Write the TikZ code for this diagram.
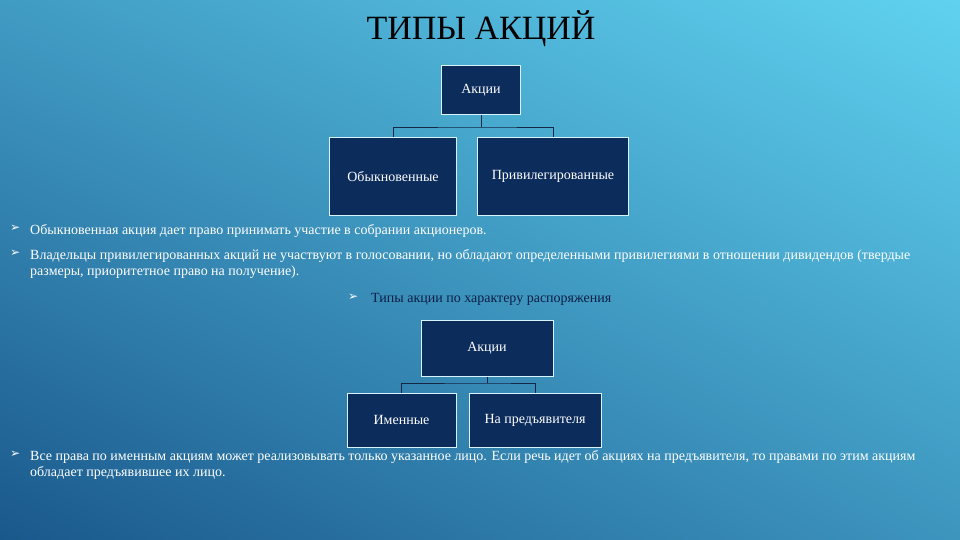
\documentclass[tikz,border=0pt]{standalone}
\usepackage{fontspec}
\setmainfont{Liberation Serif}
\newfontfamily\dv{DejaVu Sans}
\usetikzlibrary{shadings}
\begin{document}
\begin{tikzpicture}[x=1pt,y=-1pt,
  box/.style={draw=white!85!cyan,line width=1pt,fill={rgb,255:red,12;green,44;blue,92},text=white,font=\fontsize{14}{16}\selectfont,inner sep=0pt},
  conn/.style={draw={rgb,255:red,20;green,40;blue,70},line width=0.8pt},
  txt/.style={anchor=north west,text=white,font=\fontsize{14}{16.5}\selectfont,inner sep=0pt,align=left},
  bul/.style={anchor=north west,text=white,font=\dv\fontsize{12}{12}\selectfont,inner sep=0pt}]
\definecolor{bgA}{RGB}{26,88,140}
\definecolor{bgB}{RGB}{96,210,240}
\shade[lower left=bgA,upper right=bgB,lower right=bgA!50!bgB,upper left=bgA!45!bgB] (0,0) rectangle (960,540);
\useasboundingbox (0,0) rectangle (960,540);
\node[text=black,font=\fontsize{34}{36}\selectfont,inner sep=0pt] (title) at (481,29) {ТИПЫ АКЦИЙ};
% first tree
\node[box,minimum width=79,minimum height=49] (a1) at (481,90.5) {Акции};
\node[box,minimum width=127,minimum height=77] (b1) at (393,176.5) {\raisebox{-4pt}{Обыкновенные}};
\node[box,minimum width=151,minimum height=77] (c1) at (553,176.5) {\raisebox{2pt}{Привилегированные}};
\coordinate (m1) at (481,127);
\draw[conn] (a1.south) -- (m1) (b1.north) |- (m1) -| (c1.north);
% bullets
\node[bul] (p1) at (10,225) {➢};
\node[txt] (t1) at (30,224) {Обыкновенная акция дает право принимать участие в собрании акционеров.};
\node[bul] (p2) at (10,250) {➢};
\node[txt] (t2) at (30,249) {Владельцы привилегированных акций не участвуют в голосовании, но обладают определенными привилегиями в отношении дивидендов (твердые\\размеры, приоритетное право на получение).};
\node[bul] (p3) at (348,294) {➢};
\node[txt,text={rgb,255:red,12;green,30;blue,70}] (t3) at (371,293) {Типы акции по характеру распоряжения};
% second tree
\node[box,minimum width=132,minimum height=56] (a2) at (487,348) {Акции};
\node[box,minimum width=109,minimum height=54] (b2) at (401.5,420) {\raisebox{-2pt}{Именные}};
\node[box,minimum width=132,minimum height=54] (c2) at (535,420) {\raisebox{-2pt}{На предъявителя}};
\coordinate (m2) at (487,383);
\draw[conn] (a2.south) -- (m2) (b2.north) |- (m2) -| (c2.north);
\node[bul] (p4) at (10,451) {➢};
\node[txt] (t4) at (30,450) {Все права по именным акциям может реализовывать только указанное лицо. Если речь идет об акциях на предъявителя, то правами по этим акциям\\обладает предъявившее их лицо.};
\end{tikzpicture}
\end{document}
